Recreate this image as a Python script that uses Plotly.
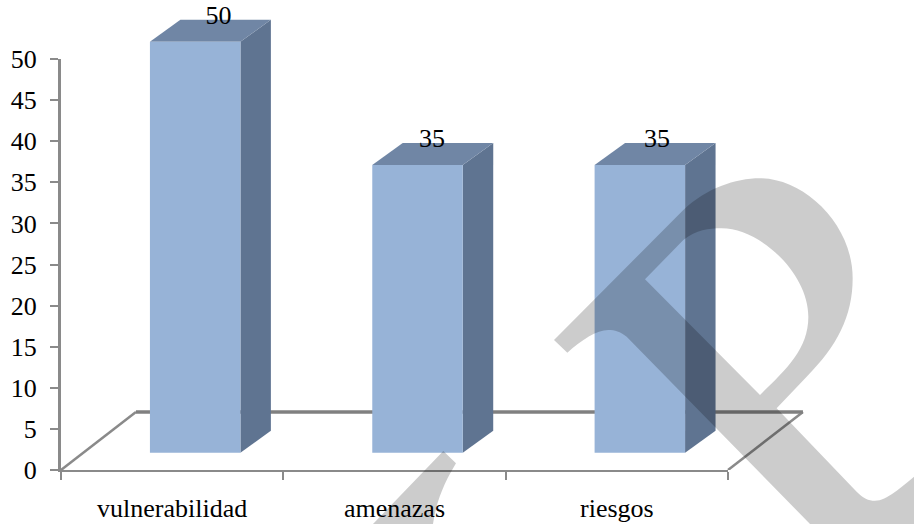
import plotly.graph_objects as go

categories = ["vulnerabilidad", "amenazas", "riesgos"]
values = [50, 35, 35]
y_ticks = list(range(0, 55, 5))

FONT = "Liberation Serif"
AXIS = "#8a8a8a"
FRONT, TOP, SIDE = "#97b3d7", "#7086a5", "#5f7491"
BAR_LEFT, BAR_W = 0.40, 0.407
DEPTH_X, DEPTH_Y = 0.137, 2.68
BAR_BASE = 2.1
FLOOR_X, FLOOR_Y = 0.337, 7.05
LABEL_DX = [0.105, 0.065, 0.077]
N = len(categories)

W, H = 914, 524
L, R, T, B = 61, 728, 59, 470
X_SCALE = (R - L) / N      # pixels per category
Y_SCALE = (B - T) / 50     # pixels per value unit


def poly(xs, ys, color):
    return go.Scatter(x=xs + xs[:1], y=ys + ys[:1], mode="lines", fill="toself",
                      fillcolor=color, line=dict(width=0), xaxis="x2", yaxis="y2",
                      hoverinfo="skip", showlegend=False)


def seg(xs, ys, color, width):
    return go.Scatter(x=xs, y=ys, mode="lines", line=dict(color=color, width=width),
                      xaxis="x2", yaxis="y2", hoverinfo="skip", showlegend=False)


fig = go.Figure()

# invisible trace that keeps the visible axes alive
fig.add_trace(go.Scatter(x=[0], y=[0], mode="markers", marker=dict(opacity=0),
                         hoverinfo="skip", showlegend=False))

# floor of the 3D plot
fig.add_trace(seg([0, FLOOR_X], [0, FLOOR_Y], AXIS, 2.5))
fig.add_trace(seg([N + FLOOR_X, N], [FLOOR_Y, 0], AXIS, 2.5))
fig.add_trace(seg([FLOOR_X, N + FLOOR_X], [FLOOR_Y, FLOOR_Y], "#808080", 3.5))

# bars as faux-3D prisms
for i, v in enumerate(values):
    x0, x1 = i + BAR_LEFT, i + BAR_LEFT + BAR_W
    y0, y1 = BAR_BASE, BAR_BASE + v
    fig.add_trace(poly([x1, x1 + DEPTH_X, x1 + DEPTH_X, x1],
                       [y0, y0 + DEPTH_Y, y1 + DEPTH_Y, y1], SIDE))
    fig.add_trace(poly([x0, x0 + DEPTH_X, x1 + DEPTH_X, x1],
                       [y1, y1 + DEPTH_Y, y1 + DEPTH_Y, y1], TOP))
    fig.add_trace(poly([x0, x1, x1, x0], [y0, y0, y1, y1], FRONT))

# data labels
fig.add_trace(go.Scatter(
    x=[i + BAR_LEFT + BAR_W / 2 + LABEL_DX[i] for i in range(N)],
    y=[v + BAR_BASE + 3.0 for v in values],
    text=[str(v) for v in values], mode="text", textposition="middle center",
    textfont=dict(family=FONT, size=26, color="black"),
    xaxis="x2", yaxis="y2", hoverinfo="skip", showlegend=False))


def P(px, py):
    return f"{px / W:.5f},{(H - py) / H:.5f}"


def path(*cmds):
    out = []
    for c in cmds:
        out.append(c[0] + " " + " ".join(P(*p) for p in c[1:]))
    return " ".join(out) + " Z"


def Z(zx, zy):
    return (540 + zx / 3, 160 + zy / 3)


outer = path(
    ("M", Z(42, 540)), ("L", Z(430, 150)),
    ("C", Z(500, 85), Z(585, 55), Z(660, 55)),
    ("C", Z(790, 55), Z(938, 190), Z(938, 355)),
    ("C", Z(938, 470), Z(890, 560), Z(800, 650)),
    ("L", Z(710, 745)), ("L", Z(950, 995)),
    ("C", Z(970, 1015), Z(985, 1022), Z(1005, 1022)),
    ("C", Z(1040, 1022), Z(1085, 980), Z(1122, 950)),
    ("L", (914, 524)), ("L", (810, 524)), ("L", Z(260, 530)),
    ("C", Z(240, 515), Z(225, 510), Z(205, 510)),
    ("C", Z(170, 510), Z(125, 540), Z(82, 578)),
)
hole = path(
    ("M", Z(315, 358)), ("L", Z(430, 240)),
    ("C", Z(470, 210), Z(505, 205), Z(545, 205)),
    ("C", Z(660, 205), Z(805, 340), Z(805, 470)),
    ("C", Z(805, 570), Z(735, 630), Z(660, 705)),
)
piece = path(
    ("M", (443.3, 451)), ("L", (456, 463.3)),
    ("C", (447, 478), (436, 500), (433, 524)),
    ("L", (373, 524)),
)
for d in (outer + " " + hole, piece):
    fig.add_shape(type="path", path=d, xref="paper", yref="paper", layer="above",
                  fillcolor="rgba(0,0,0,0.2)", line=dict(width=0), fillrule="evenodd")

fig.update_layout(
    width=W, height=H, autosize=False, template="none",
    margin=dict(l=0, r=0, t=0, b=0, pad=0),
    paper_bgcolor="white", plot_bgcolor="rgba(0,0,0,0)", showlegend=False,
    xaxis=dict(domain=[L / W, R / W], range=[0, N], anchor="y",
               showgrid=False, zeroline=False, showline=True, automargin=False,
               linecolor=AXIS, linewidth=2,
               tickmode="array", tickvals=[i + 0.5 for i in range(N)], ticktext=categories,
               ticks="", ticklabelstandoff=14,
               tickfont=dict(family=FONT, size=26, color="black"),
               minor=dict(tickmode="array", tickvals=list(range(N + 1)), ticks="outside",
                          ticklen=8, tickwidth=2, tickcolor=AXIS, showgrid=False)),
    yaxis=dict(domain=[(H - B) / H, (H - T) / H], range=[0, 50], anchor="x",
               showgrid=False, zeroline=False, showline=True, automargin=False,
               linecolor=AXIS, linewidth=3,
               tickmode="array", tickvals=y_ticks, ticks="outside", ticklen=8, tickwidth=2,
               tickcolor=AXIS, ticklabelstandoff=8,
               tickfont=dict(family=FONT, size=26, color="black")),
    xaxis2=dict(domain=[0, 1], range=[-L / X_SCALE, (W - L) / X_SCALE], anchor="y2",
                visible=False, automargin=False),
    yaxis2=dict(domain=[(H - B) / H, 1], range=[0, B / Y_SCALE], anchor="x2",
                visible=False, automargin=False),
)

fig.write_html("out.html", config=dict(displayModeBar=False),
               post_script="document.body.style.margin='0';document.body.style.overflow='hidden';")
